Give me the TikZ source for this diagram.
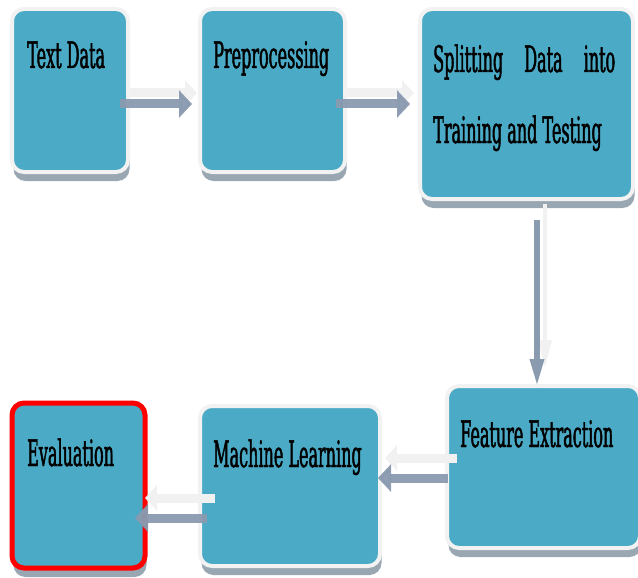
\documentclass[tikz,border=0pt]{standalone}
\usepackage{fontspec}
\newfontfamily\boxfont{DejaVu Serif}[FakeStretch=0.44,FakeBold=1.2]
\usetikzlibrary{shadows,arrows.meta,calc}
\definecolor{boxfill}{HTML}{4BAAC5}
\definecolor{boxedge}{HTML}{F2F2F2}
\definecolor{shadowc}{HTML}{8E9DAB}
\definecolor{arrowc}{HTML}{8A9AAF}
\definecolor{arrowlight}{HTML}{F1F1F1}
\definecolor{evalred}{HTML}{FF0000}
\begin{document}
\begin{tikzpicture}[x=1pt,y=-1pt,
  flowbox/.style={rectangle, rounded corners=12pt, fill=boxfill, draw=boxedge,
    line width=4pt, inner sep=0pt, outer sep=0pt,
    drop shadow={shadow xshift=1.5pt, shadow yshift=-9pt, fill=shadowc, opacity=0.9}},
  boxtext/.style={anchor=base west, inner sep=0pt, text=black,
    font=\boxfont\fontsize{36.4pt}{40pt}\selectfont},
  darkarrow/.style={draw=arrowc, line width=9pt, opacity=0.95,
    -{Triangle[width=27pt,length=13pt]}},
  lightarrow/.style={draw=arrowlight, line width=9pt,
    -{Triangle[width=25pt,length=12pt]}},
  darkvarrow/.style={draw=arrowc, line width=6pt,
    -{Triangle[width=13pt,length=28pt]}},
  lightvarrow/.style={draw=arrowlight, line width=4pt,
    -{Triangle[width=13pt,length=28pt]}}
]
\useasboundingbox (0,0) rectangle (638,578);

\node[flowbox, minimum width=116pt, minimum height=163pt] (A) at (70,90.5) {};
\node[flowbox, minimum width=145pt, minimum height=163pt] (B) at (272.5,90.5) {};
\node[flowbox, minimum width=213pt, minimum height=190pt] (C) at (526.5,104) {};
\node[flowbox, minimum width=193pt, minimum height=162pt] (D) at (543.5,467) {};
\node[flowbox, minimum width=180pt, minimum height=160pt] (E) at (290,486) {};
\node[flowbox, draw=evalred, line width=5pt, minimum width=133pt, minimum height=165pt] (F) at (78.5,485.5) {};

\node[boxtext] (t1) at (27,68) {Text Data};
\node[boxtext] (t2) at (213,68) {Preprocessing};
\node[boxtext] (t3) at (433,72) {\hbox to 182pt{Splitting\hfill Data\hfill into}};
\node[boxtext] (t4) at (433,143) {Training and Testing};
\node[boxtext] (t5) at (460,447) {Feature Extraction};
\node[boxtext] (t6) at (213,467) {Machine Learning};
\node[boxtext] (t7) at (27,466) {Evaluation};

% light (reflection) arrows
\draw[lightarrow] ([shift={(2,2.5)}]A.east) -- ([shift={(-3,2.5)}]B.west);
\draw[lightarrow] ([shift={(2,2.5)}]B.east) -- ([shift={(-6,-11)}]C.west);
\draw[lightvarrow] ([shift={(18.5,5)}]C.south) -- ([shift={(1.5,-18)}]D.north);
\draw[lightarrow] ([shift={(10,-9)}]D.west) -- ([shift={(5,-28)}]E.east);
\draw[lightarrow] ([shift={(15,12)}]E.west) -- ([shift={(0,12.5)}]F.east);

% dark arrows
\draw[darkarrow] ([shift={(-8,13.5)}]A.east) -- ([shift={(-8,13.5)}]B.west);
\draw[darkarrow] ([shift={(-9,13.5)}]B.east) -- ([shift={(-10,0)}]C.west);
\draw[darkvarrow] ([shift={(10.5,21)}]C.south) -- ([shift={(-6.5,1)}]D.north);
\draw[darkarrow] ([shift={(1,11)}]D.west) -- ([shift={(-2,-8)}]E.east);
\draw[darkarrow] ([shift={(7,32)}]E.west) -- ([shift={(-10,32.5)}]F.east);
\end{tikzpicture}
\end{document}
